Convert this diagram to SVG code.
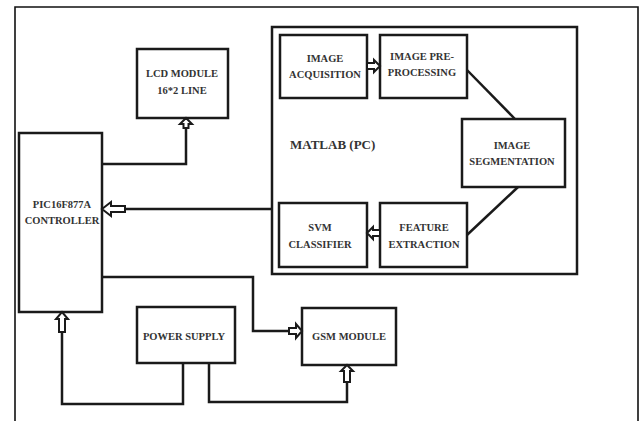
<svg xmlns="http://www.w3.org/2000/svg" width="640" height="421" viewBox="0 0 640 421">
<style>
.box{fill:#fff;stroke:#1a1a1a;stroke-width:2.5}
.ln{fill:none;stroke:#1a1a1a;stroke-width:2.5;stroke-linejoin:miter}
.ar{fill:#fff;stroke:#1a1a1a;stroke-width:2;stroke-linejoin:miter}
text{font-family:"Liberation Serif","Times New Roman",serif;font-weight:bold;font-size:10.5px;fill:#333;text-anchor:middle}
.big{font-size:13px;text-anchor:start}
</style>
<rect width="640" height="421" fill="#fff"/>
<path d="M15,421 V7 H638 V421" fill="none" stroke="#111" stroke-width="1.6"/>
<g id="matlab"><rect class="box" x="272" y="27" width="305" height="247"/><text class="big" x="290" y="149">MATLAB (PC)</text></g>
<g id="lcd"><rect class="box" x="137" y="49" width="91" height="69"/><text x="182" y="77">LCD MODULE</text><text x="182" y="94">16*2 LINE</text></g>
<g id="pic"><rect class="box" x="19" y="133" width="83" height="179"/><text x="62" y="208">PIC16F877A</text><text x="62" y="224">CONTROLLER</text></g>
<g id="acq"><rect class="box" x="280" y="35" width="87" height="63"/><text x="325" y="62">IMAGE</text><text x="325" y="78">ACQUISITION</text></g>
<g id="pre"><rect class="box" x="380" y="35" width="87" height="63"/><text x="422" y="60">IMAGE PRE-</text><text x="422" y="76">PROCESSING</text></g>
<g id="seg"><rect class="box" x="462" y="119" width="103" height="68"/><text x="512" y="149">IMAGE</text><text x="512" y="165">SEGMENTATION</text></g>
<g id="svm"><rect class="box" x="279" y="203" width="88" height="64"/><text x="320" y="231">SVM</text><text x="320" y="248">CLASSIFIER</text></g>
<g id="feat"><rect class="box" x="380" y="203" width="87" height="64"/><text x="424" y="231">FEATURE</text><text x="424" y="248">EXTRACTION</text></g>
<g id="power"><rect class="box" x="137" y="307" width="98" height="56"/><text x="184" y="340">POWER SUPPLY</text></g>
<g id="gsm"><rect class="box" x="302" y="308" width="94" height="57"/><text x="349" y="340">GSM MODULE</text></g>
<g id="connectors">
<path class="ln" d="M102,164 H186 V127"/>
<polygon class="ar" points="186,118 192,124 188.5,124 188.5,128 183.5,128 183.5,124 180,124"/>
<path class="ln" d="M272,209 H124"/>
<polygon class="ar" points="102,209 111,202 111,206 125,206 125,212 111,212 111,216"/>
<path class="ln" d="M102,277 H253 V331 H290"/>
<polygon class="ar" points="302,331 296,324 296,328 289,328 289,334 296,334 296,338"/>
<path class="ln" d="M183,363 V404 H62 V331"/>
<polygon class="ar" points="62,312 68,319 65,319 65,332 59,332 59,319 56,319"/>
<path class="ln" d="M209,363 V402 H347 V381"/>
<polygon class="ar" points="347,365 353,371 350,371 350,382 344,382 344,371 341,371"/>
<polygon class="ar" points="380,66 374,60 374,63 367,63 367,69 374,69 374,72"/>
<polygon class="ar" points="367,233 373,227 373,230 380,230 380,236 373,236 373,239"/>
<path class="ln" d="M467,70 L515,119"/>
<path class="ln" d="M518,187 L467,235"/>
</g>
</svg>
